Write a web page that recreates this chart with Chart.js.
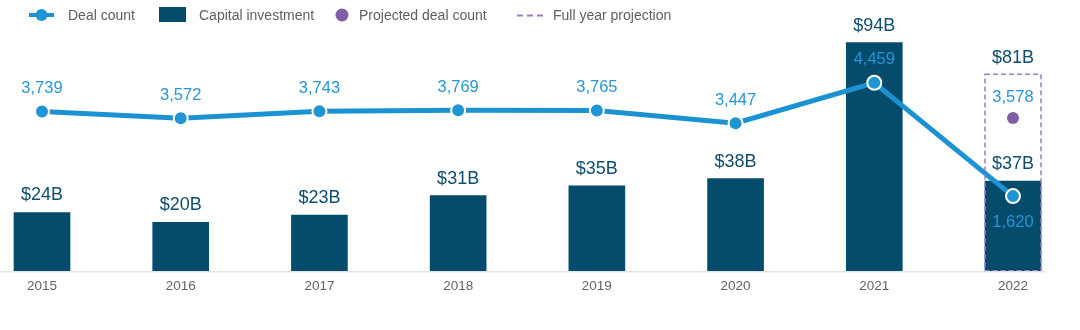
<!DOCTYPE html>
<html>
<head>
<meta charset="utf-8">
<script src="https://cdn.jsdelivr.net/npm/chart.js@4"></script>
<style>
  body { margin: 0; background: #fff; font-family: "Liberation Sans", Arial, sans-serif; }
  #wrap { position: relative; width: 1080px; height: 330px; }
  #legend { position: absolute; top: 0; left: 0; width: 1080px; height: 30px; font-size: 14px; color: #5a6066; }
  .item { position: absolute; top: 7px; line-height: 16px; white-space: nowrap; }
  .sw { position: absolute; }
</style>
</head>
<body>
<div id="wrap">
  <canvas id="chart" width="1080" height="330"></canvas>
  <div id="legend">
    <svg class="sw" style="left:29px;top:8px" width="25" height="14"><line x1="0" y1="7" x2="25" y2="7" stroke="#1b93d3" stroke-width="4"/><circle cx="12.5" cy="7" r="6" fill="#1f95d6"/></svg>
    <div class="item" style="left:68px">Deal count</div>
    <svg class="sw" style="left:159px;top:7px" width="27" height="15"><rect x="0" y="0" width="27" height="15" fill="#044b6c"/></svg>
    <div class="item" style="left:199px">Capital investment</div>
    <svg class="sw" style="left:335px;top:8px" width="14" height="14"><circle cx="7" cy="7" r="6.5" fill="#7e5ea5"/></svg>
    <div class="item" style="left:359px">Projected deal count</div>
    <svg class="sw" style="left:517px;top:14px" width="26" height="3"><line x1="0" y1="1.5" x2="26" y2="1.5" stroke="#9b7fc0" stroke-width="2" stroke-dasharray="6,4"/></svg>
    <div class="item" style="left:553px">Full year projection</div>
  </div>
</div>
<script>
// Data
const years = ['2015', '2016', '2017', '2018', '2019', '2020', '2021', '2022'];
const dealCount = [3739, 3572, 3743, 3769, 3765, 3447, 4459, 1620];
const capital = [24, 20, 23, 31, 35, 38, 94, 37];
const projectedDeals = [null, null, null, null, null, null, null, 3578];
const projectedCapital = [null, null, null, null, null, null, null, 81];

const BAR = '#044b6c';
const BLUE = '#1b93d3';
const LABEL_BLUE = '#2796d6';
const PURPLE = '#7e5ea5';
const FONT = '"Liberation Sans", Arial, sans-serif';

// Capital labels and dashed projection box
const labelPlugin = {
    id: 'labels',
    afterDatasetsDraw(chart) {
        const ctx = chart.ctx;
        ctx.save();
        ctx.textAlign = 'center';
        ctx.textBaseline = 'middle';
        ctx.font = '18px ' + FONT;

        // dashed box for the full year projection
        const projMeta = chart.getDatasetMeta(3);
        projMeta.data.forEach((el, i) => {
            if (projectedCapital[i] == null) return;
            const w = el.width;
            ctx.strokeStyle = '#9b7fc0';
            ctx.lineWidth = 1.5;
            ctx.setLineDash([5, 3]);
            ctx.strokeRect(el.x - w / 2, el.y, w, el.base - el.y);
            ctx.setLineDash([]);
            ctx.fillStyle = '#0d4e70';
            ctx.fillText('$' + projectedCapital[i] + 'B', el.x, el.y - 16);
        });

        const barMeta = chart.getDatasetMeta(2);
        ctx.fillStyle = '#0d4e70';
        barMeta.data.forEach((el, i) => {
            ctx.fillText('$' + capital[i] + 'B', el.x, el.y - 17);
        });
        ctx.restore();
    }
};

// Deal count labels and baseline
const topLabelPlugin = {
    id: 'topLabels',
    afterDraw(chart) {
        const ctx = chart.ctx;
        ctx.save();
        ctx.textAlign = 'center';
        ctx.textBaseline = 'middle';
        ctx.font = '16.5px ' + FONT;
        ctx.fillStyle = LABEL_BLUE;
        const lineMeta = chart.getDatasetMeta(0);
        lineMeta.data.forEach((el, i) => {
            const below = i === dealCount.length - 1;
            ctx.fillText(dealCount[i].toLocaleString('en-US'), el.x, below ? el.y + 26 : el.y - 23);
        });
        const projMeta = chart.getDatasetMeta(1);
        projMeta.data.forEach((el, i) => {
            if (projectedDeals[i] == null) return;
            ctx.fillText(projectedDeals[i].toLocaleString('en-US'), el.x, el.y - 20);
        });

        const x = chart.scales.x;
        const y = chart.scales.y;
        ctx.strokeStyle = '#e2e4e6';
        ctx.lineWidth = 1.5;
        ctx.beginPath();
        ctx.moveTo(0, y.bottom + 1);
        ctx.lineTo(x.right + 32, y.bottom + 1);
        ctx.stroke();
        ctx.restore();
    }
};

new Chart(document.getElementById('chart'), {
    type: 'bar',
    data: {
        labels: years,
        datasets: [{
            type: 'line',
            label: 'Deal count',
            data: dealCount,
            yAxisID: 'y2',
            borderColor: BLUE,
            borderWidth: 5,
            pointRadius: 7,
            pointBackgroundColor: '#1f95d6',
            pointBorderColor: '#fff',
            pointBorderWidth: 2,
            tension: 0,
            clip: false,
            order: 0
        }, {
            type: 'line',
            label: 'Projected deal count',
            data: projectedDeals,
            yAxisID: 'y2',
            showLine: false,
            pointRadius: 6,
            pointBackgroundColor: PURPLE,
            pointBorderWidth: 0,
            clip: false,
            order: 1
        }, {
            label: 'Capital investment',
            data: capital,
            yAxisID: 'y',
            backgroundColor: BAR,
            barThickness: 56,
            grouped: false,
            clip: false,
            order: 3
        }, {
            label: 'Full year projection',
            data: projectedCapital,
            yAxisID: 'y',
            backgroundColor: 'rgba(0,0,0,0)',
            borderWidth: 0,
            barThickness: 56,
            grouped: false,
            clip: false,
            order: 2
        }]
    },
    options: {
        responsive: false,
        animation: false,
        layout: { padding: { left: 42, right: 67, top: 28, bottom: 29 } },
        plugins: {
            legend: { display: false },
            tooltip: { enabled: false }
        },
        scales: {
            x: {
                offset: false,
                grid: { display: false, drawTicks: false },
                border: { display: false },
                ticks: {
                    color: '#5f6368',
                    padding: 7,
                    maxRotation: 0,
                    font: { family: FONT, size: 13.5 }
                }
            },
            y: {
                display: false,
                min: 0,
                max: 100
            },
            y2: {
                display: false,
                position: 'right',
                min: -250,
                max: 5830
            }
        }
    },
    plugins: [labelPlugin, topLabelPlugin]
});
</script>
</body>
</html>
